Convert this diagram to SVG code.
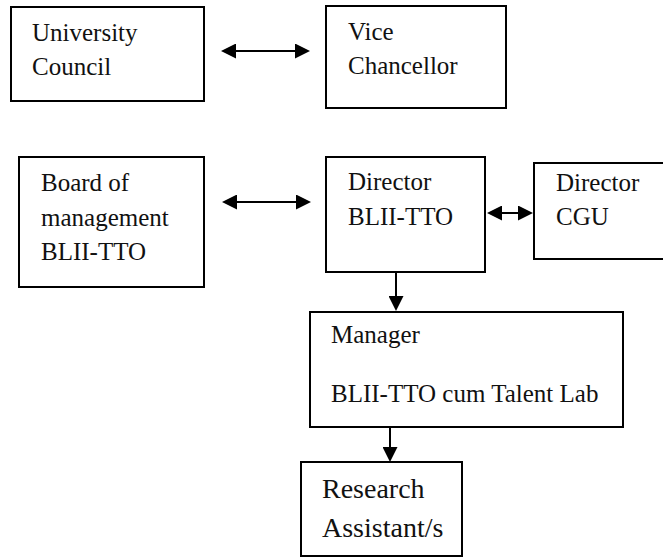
<svg xmlns="http://www.w3.org/2000/svg" width="663" height="558" viewBox="0 0 663 558">
<style>
.box{fill:#fff;stroke:#000;stroke-width:2}
.c{stroke:#000;stroke-width:2;fill:none}
text{font-family:'Liberation Serif','Times New Roman',serif;font-size:25px;fill:#111}
.big{font-size:28px}
</style>
<defs>
<marker id="ah" markerUnits="userSpaceOnUse" markerWidth="15" markerHeight="15" viewBox="0 0 15 15" refX="5" refY="7.5" orient="auto-start-reverse">
<path d="M0,0 L15,7.5 L0,15 z" fill="#000"/>
</marker>
</defs>
<rect width="663" height="558" fill="#fff"/>
<g id="connectors">
<line class="c" x1="231" y1="51" x2="300" y2="51" marker-start="url(#ah)" marker-end="url(#ah)"/>
<line class="c" x1="232" y1="202" x2="301" y2="202" marker-start="url(#ah)" marker-end="url(#ah)"/>
<line class="c" x1="497" y1="213" x2="523" y2="213" marker-start="url(#ah)" marker-end="url(#ah)"/>
<line class="c" x1="396" y1="266" x2="396" y2="301" marker-end="url(#ah)"/>
<line class="c" x1="390" y1="427" x2="390" y2="452" marker-end="url(#ah)"/>
</g>
<g id="university-council">
<rect class="box" x="11" y="7" width="193" height="94"/>
<text x="32" y="41">University</text>
<text x="32" y="75">Council</text>
</g>
<g id="vice-chancellor">
<rect class="box" x="326" y="6" width="180" height="102"/>
<text x="348" y="40">Vice</text>
<text x="348" y="74">Chancellor</text>
</g>
<g id="board-of-management">
<rect class="box" x="19" y="157" width="185" height="130"/>
<text x="41" y="191">Board of</text>
<text x="41" y="226">management</text>
<text x="41" y="260">BLII-TTO</text>
</g>
<g id="director-blii-tto">
<rect class="box" x="326" y="157" width="159" height="115"/>
<text x="348" y="190">Director</text>
<text x="348" y="225">BLII-TTO</text>
</g>
<g id="director-cgu">
<rect class="box" x="534" y="163" width="132" height="96"/>
<text x="556" y="191">Director</text>
<text x="556" y="225">CGU</text>
</g>
<g id="manager">
<rect class="box" x="310" y="312" width="313" height="115"/>
<text x="331" y="343">Manager</text>
<text x="331" y="402">BLII-TTO cum Talent Lab</text>
</g>
<g id="research-assistants">
<rect class="box" x="301" y="462" width="161" height="94"/>
<text class="big" x="322" y="498">Research</text>
<text class="big" x="322" y="537">Assistant/s</text>
</g>
</svg>
